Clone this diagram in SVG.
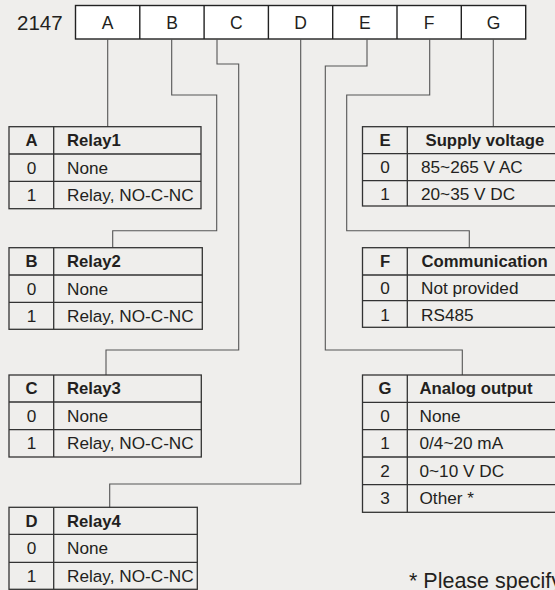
<svg xmlns="http://www.w3.org/2000/svg" width="555" height="590" viewBox="0 0 555 590">
<style>
text{font-family:"Liberation Sans",Arial,sans-serif;fill:#231f20;font-size:17.2px}
.b{font-weight:bold;font-size:16.7px}
.c{text-anchor:middle}
.t{font-size:17.5px}
.tb{fill:none;stroke:#333;stroke-width:1.3}
.cn{fill:none;stroke:#555;stroke-width:1.1}
.top{fill:#fff;stroke:#222;stroke-width:1.4}
</style>
<rect width="555" height="590" fill="#efeeec"/>
<g id="code">
<text x="17" y="29.5" style="font-size:20.5px">2147</text>
<rect class="top" x="75.5" y="5.5" width="450.2" height="33.5"/>
<path class="top" d="M139.8 5.5V39M204.1 5.5V39M268.4 5.5V39M332.7 5.5V39M397 5.5V39M461.3 5.5V39"/>
<text class="c t" x="107.7" y="29.3">A</text>
<text class="c t" x="172" y="29.3">B</text>
<text class="c t" x="236.3" y="29.3">C</text>
<text class="c t" x="300.6" y="29.3">D</text>
<text class="c t" x="364.9" y="29.3">E</text>
<text class="c t" x="429.2" y="29.3">F</text>
<text class="c t" x="493.5" y="29.3">G</text>
</g>
<g id="connectors">
<path class="cn" d="M107.7 39V126.7"/>
<path class="cn" d="M171.7 39V95H216.7V230.7H112.7V247.7"/>
<path class="cn" d="M217 39V64H238.7V350H106V375"/>
<path class="cn" d="M300.7 39V484H109.7V507.3"/>
<path class="cn" d="M367 39V66H325.3V350H462.3V375"/>
<path class="cn" d="M429.7 39V95H346.7V230.7H469.3V247.7"/>
<path class="cn" d="M493.3 39V126.7"/>
</g>
<g id="tableA">
<rect class="tb" x="9" y="126.7" width="192" height="82"/>
<path class="tb" d="M53.7 126.7V208.7M9 154H201M9 181.3H201"/>
<text class="c b" x="31.5" y="146">A</text><text class="b" x="67" y="146">Relay1</text>
<text class="c" x="31.5" y="173.5">0</text><text x="67" y="173.5">None</text>
<text class="c" x="31.5" y="201">1</text><text x="67" y="201">Relay, NO-C-NC</text>
</g>
<g id="tableB">
<rect class="tb" x="9" y="247.7" width="193.3" height="81.6"/>
<path class="tb" d="M53.7 247.7V329.3M9 275H202.3M9 302.3H202.3"/>
<text class="c b" x="31.5" y="267">B</text><text class="b" x="67" y="267">Relay2</text>
<text class="c" x="31.5" y="294.5">0</text><text x="67" y="294.5">None</text>
<text class="c" x="31.5" y="321.5">1</text><text x="67" y="321.5">Relay, NO-C-NC</text>
</g>
<g id="tableC">
<rect class="tb" x="9" y="375" width="192.3" height="82"/>
<path class="tb" d="M53.7 375V457M9 402H201.3M9 429.7H201.3"/>
<text class="c b" x="31.5" y="394.3">C</text><text class="b" x="67" y="394.3">Relay3</text>
<text class="c" x="31.5" y="421.5">0</text><text x="67" y="421.5">None</text>
<text class="c" x="31.5" y="449">1</text><text x="67" y="449">Relay, NO-C-NC</text>
</g>
<g id="tableD">
<rect class="tb" x="9" y="507.3" width="188.3" height="82"/>
<path class="tb" d="M53.7 507.3V589.3M9 534.3H197.3M9 562.3H197.3"/>
<text class="c b" x="31.5" y="526.5">D</text><text class="b" x="67" y="526.5">Relay4</text>
<text class="c" x="31.5" y="554">0</text><text x="67" y="554">None</text>
<text class="c" x="31.5" y="581.5">1</text><text x="67" y="581.5">Relay, NO-C-NC</text>
</g>
<g id="tableE">
<rect class="tb" x="362.5" y="126.7" width="210" height="79.3"/>
<path class="tb" d="M407.3 126.7V206M362.5 153.7H572.5M362.5 180.7H572.5"/>
<text class="c b" x="385" y="146">E</text><text class="b" x="425.5" y="146">Supply voltage</text>
<text class="c" x="385" y="173">0</text><text x="421" y="173">85~265 V AC</text>
<text class="c" x="385" y="200">1</text><text x="421" y="200">20~35 V DC</text>
</g>
<g id="tableF">
<rect class="tb" x="362.5" y="247.7" width="210" height="79.6"/>
<path class="tb" d="M407.3 247.7V327.3M362.5 275H572.5M362.5 300.7H572.5"/>
<text class="c b" x="385" y="267">F</text><text class="b" x="421.5" y="267">Communication</text>
<text class="c" x="385" y="294">0</text><text x="421" y="294">Not provided</text>
<text class="c" x="385" y="320.5">1</text><text x="421" y="320.5">RS485</text>
</g>
<g id="tableG">
<rect class="tb" x="362.5" y="375" width="210" height="137.3"/>
<path class="tb" d="M407.3 375V512.3M362.5 402.3H572.5M362.5 429.7H572.5M362.5 457H572.5M362.5 484.7H572.5"/>
<text class="c b" x="385" y="394.3">G</text><text class="b" x="419.5" y="394.3">Analog output</text>
<text class="c" x="385" y="421.5">0</text><text x="419.5" y="421.5">None</text>
<text class="c" x="385" y="449">1</text><text x="419.5" y="449">0/4~20 mA</text>
<text class="c" x="385" y="476.5">2</text><text x="419.5" y="476.5">0~10 V DC</text>
<text class="c" x="385" y="504">3</text><text x="419.5" y="504">Other *</text>
</g>
<text x="409" y="588" style="font-size:21.5px">* Please specify</text>
</svg>
